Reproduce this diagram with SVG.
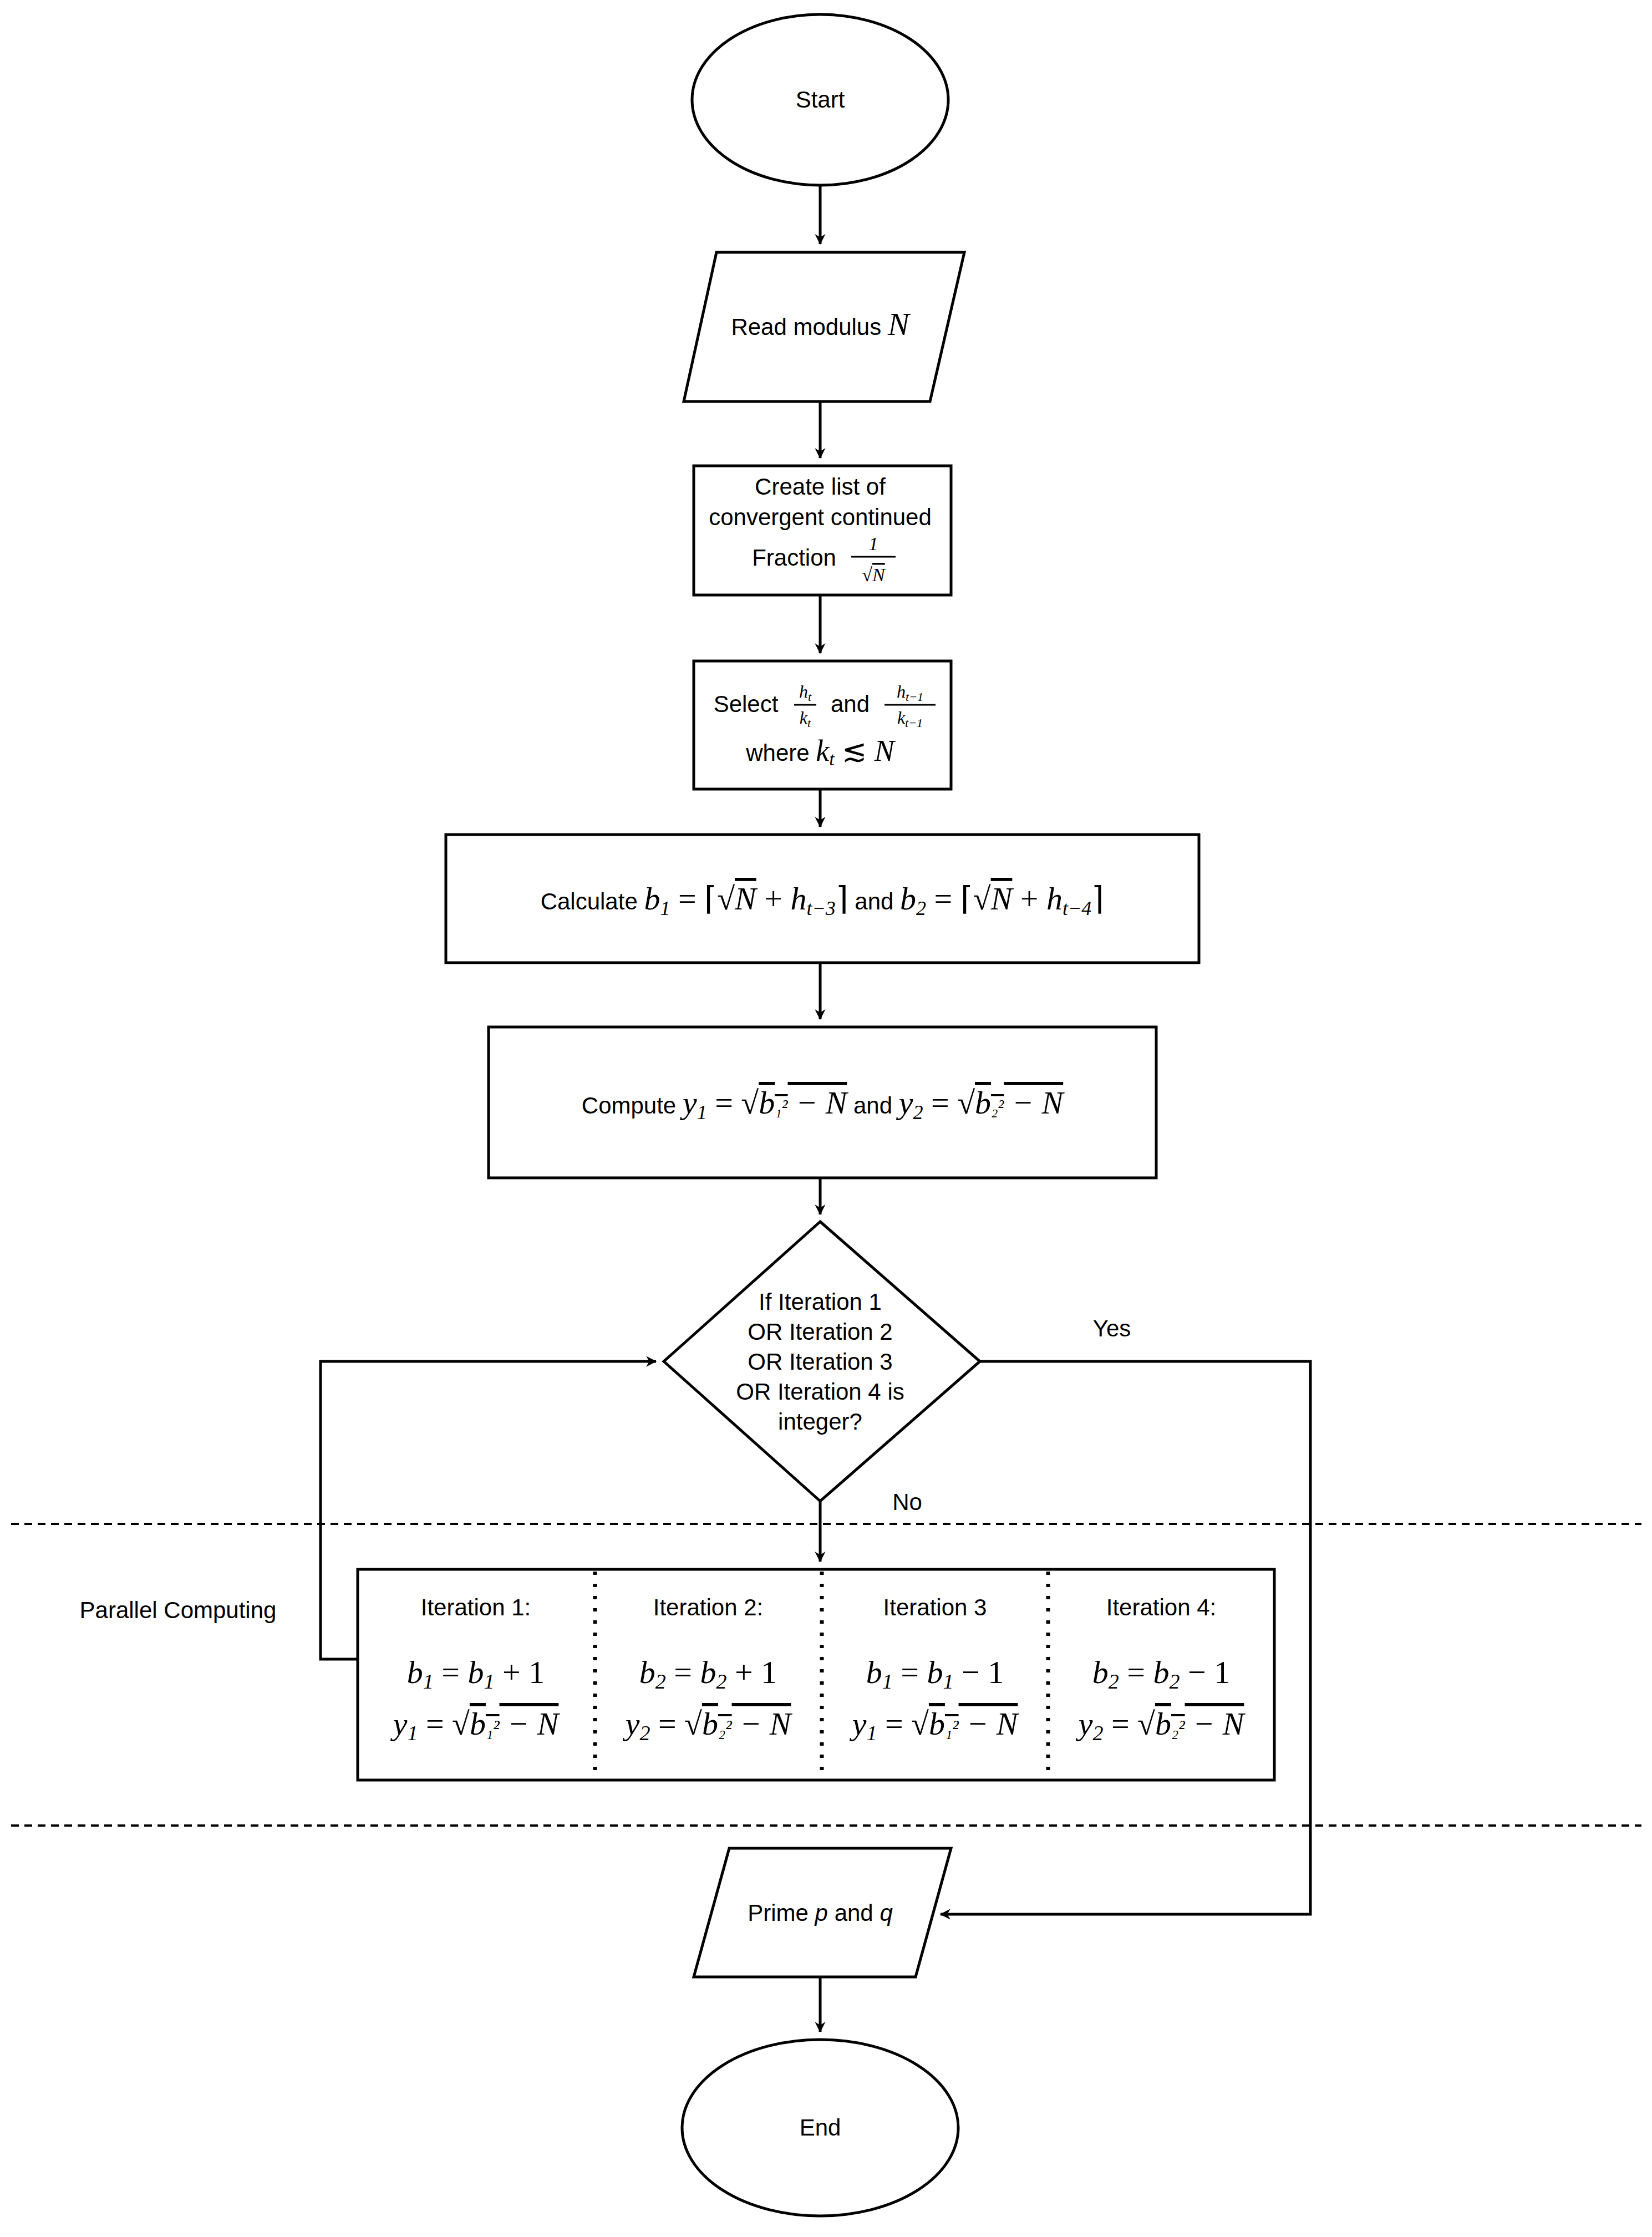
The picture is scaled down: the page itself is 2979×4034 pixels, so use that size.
<svg xmlns="http://www.w3.org/2000/svg" width="2979" height="4034" viewBox="0 0 2979 4034">
<style>
.s{fill:#fff;stroke:#000;stroke-width:5}
.t{font-family:"Liberation Sans",Arial,sans-serif;font-size:42px;fill:#000;text-anchor:middle}
.m{font-family:"Liberation Serif","Times New Roman",serif;font-size:58px;font-style:italic}
.r{font-style:normal}
.ov{text-decoration:overline}
.c{fill:none;stroke:#000;stroke-width:5}
.d{stroke:#000;stroke-width:4;stroke-dasharray:14 10}
.dt{stroke:#000;stroke-width:7;stroke-dasharray:6 16}
</style>
<defs><marker id="a" viewBox="0 0 10 10" refX="9" refY="5" markerWidth="6" markerHeight="6" markerUnits="userSpaceOnUse" orient="auto" style="overflow:visible"><path d="M0,0 L10,5 L0,10 L3,5 Z" transform="scale(3.2) translate(-6.5 -3.4)" fill="#000"/></marker></defs>
<rect width="2979" height="4034" fill="#fff"/>
<line class="d" x1="20" y1="2748" x2="2960" y2="2748"/>
<line class="d" x1="20" y1="3292" x2="2960" y2="3292"/>
<g id="connectors">
<path class="c" d="M1479,334V440" marker-end="url(#a)"/>
<path class="c" d="M1479,724V826" marker-end="url(#a)"/>
<path class="c" d="M1479,1073V1178" marker-end="url(#a)"/>
<path class="c" d="M1479,1423V1491" marker-end="url(#a)"/>
<path class="c" d="M1479,1736V1838" marker-end="url(#a)"/>
<path class="c" d="M1479,2124V2190" marker-end="url(#a)"/>
<path class="c" d="M1479,2707V2816" marker-end="url(#a)"/>
<path class="c" d="M645,2992H578V2455H1183" marker-end="url(#a)"/>
<path class="c" d="M1767,2455H2363V3452H1696" marker-end="url(#a)"/>
<path class="c" d="M1479,3565V3664" marker-end="url(#a)"/>
<text class="t" x="2005" y="2410">Yes</text>
<text class="t" x="1636" y="2723">No</text>
</g>
<g id="start"><ellipse class="s" cx="1479" cy="180" rx="231" ry="154"/><text class="t" x="1479" y="194">Start</text></g>
<g id="read"><polygon class="s" points="1292,455 1739,455 1677,724 1233,724"/><text class="t" x="1479" y="604">Read modulus <tspan class="m">N</tspan></text></g>
<g id="create"><rect class="s" x="1251" y="840" width="464" height="233"/>
<text class="t" x="1479" y="892">Create list of</text>
<text class="t" x="1479" y="947">convergent continued</text>
<text class="t" x="1432" y="1020">Fraction</text>
<text class="t m" x="1575" y="992" style="font-size:34px">1</text>
<line x1="1535" y1="1004" x2="1615" y2="1004" stroke="#000" stroke-width="3"/>
<text class="t m" x="1575" y="1048" style="font-size:34px"><tspan class="r">√</tspan><tspan class="ov">N</tspan></text></g>
<g id="select"><rect class="s" x="1251" y="1192" width="464" height="231"/>
<text class="t" x="1345" y="1284">Select</text>
<text class="t m" x="1452" y="1258" style="font-size:32px">h<tspan style="font-size:22px" dy="6">t</tspan></text>
<line x1="1432" y1="1271" x2="1472" y2="1271" stroke="#000" stroke-width="3"/>
<text class="t m" x="1452" y="1305" style="font-size:32px">k<tspan style="font-size:22px" dy="6">t</tspan></text>
<text class="t" x="1533" y="1284">and</text>
<text class="t m" x="1641" y="1258" style="font-size:32px">h<tspan style="font-size:22px" dy="6">t−1</tspan></text>
<line x1="1595" y1="1271" x2="1687" y2="1271" stroke="#000" stroke-width="3"/>
<text class="t m" x="1641" y="1305" style="font-size:32px">k<tspan style="font-size:22px" dy="6">t−1</tspan></text>
<text class="t" x="1479" y="1372">where <tspan class="m" style="font-size:54px">k<tspan style="font-size:34px" dy="8">t</tspan><tspan class="r" dy="-8"> ≲ </tspan>N</tspan></text></g>
<g id="calc"><rect class="s" x="804" y="1505" width="1358" height="231"/>
<text class="t" x="1483" y="1640">Calculate <tspan class="m">b<tspan style="font-size:36px" dy="10">1</tspan><tspan class="r" dy="-10"> = ⌈√</tspan><tspan class="ov">N</tspan><tspan class="r"> + </tspan>h<tspan style="font-size:36px" dy="10">t−3</tspan><tspan class="r" dy="-10">⌉</tspan></tspan> and <tspan class="m">b<tspan style="font-size:36px" dy="10">2</tspan><tspan class="r" dy="-10"> = ⌈√</tspan><tspan class="ov">N</tspan><tspan class="r"> + </tspan>h<tspan style="font-size:36px" dy="10">t−4</tspan><tspan class="r" dy="-10">⌉</tspan></tspan></text></g>
<g id="compute"><rect class="s" x="881" y="1852" width="1204" height="272"/>
<text class="t" x="1483" y="2008">Compute <tspan class="m">y<tspan style="font-size:36px" dy="10">1</tspan><tspan class="r" dy="-10"> = √</tspan><tspan class="ov">b<tspan style="font-size:36px">₁²</tspan> − N</tspan></tspan> and <tspan class="m">y<tspan style="font-size:36px" dy="10">2</tspan><tspan class="r" dy="-10"> = √</tspan><tspan class="ov">b<tspan style="font-size:36px">₂²</tspan> − N</tspan></tspan></text></g>
<g id="decision"><polygon class="s" points="1479,2203 1767,2455 1479,2707 1197,2455"/>
<text class="t" x="1479" y="2362">If Iteration 1</text>
<text class="t" x="1479" y="2416">OR Iteration 2</text>
<text class="t" x="1479" y="2470">OR Iteration 3</text>
<text class="t" x="1479" y="2524">OR Iteration 4 is</text>
<text class="t" x="1479" y="2578">integer?</text></g>
<text class="t" x="321" y="2918" id="parallel-label">Parallel Computing</text>
<g id="parallel"><rect class="s" x="645" y="2830" width="1653" height="380"/>
<line class="dt" x1="1073" y1="2834" x2="1073" y2="3206"/>
<line class="dt" x1="1482" y1="2834" x2="1482" y2="3206"/>
<line class="dt" x1="1890" y1="2834" x2="1890" y2="3206"/>
<text class="t" x="858" y="2913">Iteration 1:</text>
<text class="t" x="1277" y="2913">Iteration 2:</text>
<text class="t" x="1686" y="2913">Iteration 3</text>
<text class="t" x="2094" y="2913">Iteration 4:</text>
<text class="t m" x="858" y="3035">b<tspan style="font-size:38px" dy="10">1</tspan><tspan class="r" dy="-10"> = </tspan>b<tspan style="font-size:38px" dy="10">1</tspan><tspan class="r" dy="-10"> + 1</tspan></text>
<text class="t m" x="1277" y="3035">b<tspan style="font-size:38px" dy="10">2</tspan><tspan class="r" dy="-10"> = </tspan>b<tspan style="font-size:38px" dy="10">2</tspan><tspan class="r" dy="-10"> + 1</tspan></text>
<text class="t m" x="1686" y="3035">b<tspan style="font-size:38px" dy="10">1</tspan><tspan class="r" dy="-10"> = </tspan>b<tspan style="font-size:38px" dy="10">1</tspan><tspan class="r" dy="-10"> − 1</tspan></text>
<text class="t m" x="2094" y="3035">b<tspan style="font-size:38px" dy="10">2</tspan><tspan class="r" dy="-10"> = </tspan>b<tspan style="font-size:38px" dy="10">2</tspan><tspan class="r" dy="-10"> − 1</tspan></text>
<text class="t m" x="858" y="3128">y<tspan style="font-size:38px" dy="10">1</tspan><tspan class="r" dy="-10"> = √</tspan><tspan class="ov">b<tspan style="font-size:38px">₁²</tspan> − N</tspan></text>
<text class="t m" x="1277" y="3128">y<tspan style="font-size:38px" dy="10">2</tspan><tspan class="r" dy="-10"> = √</tspan><tspan class="ov">b<tspan style="font-size:38px">₂²</tspan> − N</tspan></text>
<text class="t m" x="1686" y="3128">y<tspan style="font-size:38px" dy="10">1</tspan><tspan class="r" dy="-10"> = √</tspan><tspan class="ov">b<tspan style="font-size:38px">₁²</tspan> − N</tspan></text>
<text class="t m" x="2094" y="3128">y<tspan style="font-size:38px" dy="10">2</tspan><tspan class="r" dy="-10"> = √</tspan><tspan class="ov">b<tspan style="font-size:38px">₂²</tspan> − N</tspan></text></g>
<g id="prime"><polygon class="s" points="1315,3333 1715,3333 1651,3565 1251,3565"/><text class="t" x="1479" y="3464">Prime <tspan style="font-style:italic">p</tspan> and <tspan style="font-style:italic">q</tspan></text></g>
<g id="end"><ellipse class="s" cx="1479" cy="3837" rx="249" ry="159"/><text class="t" x="1479" y="3851">End</text></g>
</svg>
